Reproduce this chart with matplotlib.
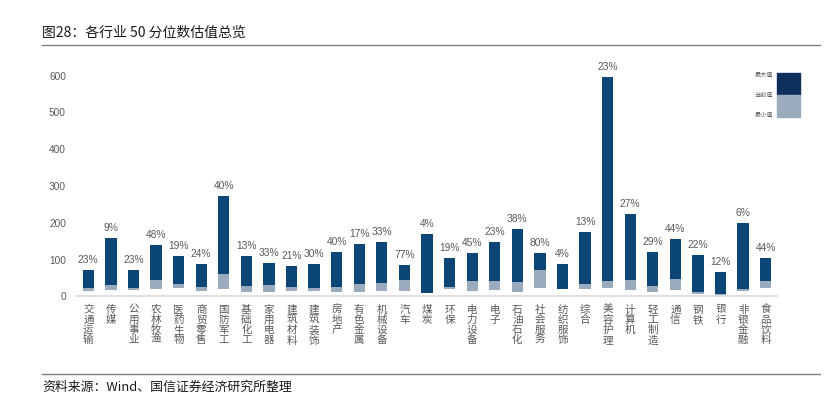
import matplotlib
matplotlib.use("Agg")
import matplotlib.pyplot as plt
from matplotlib.patches import Rectangle
from matplotlib.lines import Line2D

plt.rcParams['font.family'] = ['Noto Sans CJK SC', 'DejaVu Sans']

categories = ["交通运输", "传媒", "公用事业", "农林牧渔", "医药生物", "商贸零售", "国防军工",
              "基础化工", "家用电器", "建筑材料", "建筑装饰", "房地产", "有色金属", "机械设备",
              "汽车", "煤炭", "环保", "电力设备", "电子", "石油石化", "社会服务", "纺织服饰",
              "综合", "美容护理", "计算机", "轻工制造", "通信", "钢铁", "银行", "非银金融", "食品饮料"]
max_vals = [71.6, 157.8, 71.6, 138.7, 108.8, 87.0, 273.8, 109.7, 89.8, 83.4, 88.8, 121.5, 143.2,
            148.7, 85.2, 169.5, 103.4, 117.0, 147.8, 182.2, 117.9, 88.0, 175.0, 597.5, 224.8,
            120.6, 155.9, 112.4, 67.0, 198.5, 105.2]
cur_vals = [21.8, 30.0, 23.6, 44.4, 32.6, 25.4, 59.8, 28.0, 30.0, 25.4, 23.6, 25.4, 32.6,
            37.2, 45.3, 9.0, 26.3, 42.6, 41.7, 38.0, 70.7, 20.0, 34.5, 40.8, 44.4,
            28.0, 48.0, 10.9, 5.0, 20.0, 41.7]
min_vals = [14.5, 18.0, 18.0, 19.0, 22.7, 15.4, 19.0, 11.8, 11.8, 14.5, 14.5, 12.7, 12.7,
            15.4, 14.5, 8.0, 19.0, 15.4, 17.2, 12.7, 21.8, 19.0, 20.9, 21.8, 18.0,
            12.7, 17.2, 5.4, 3.6, 15.4, 23.6]
pct_labels = ["23%", "9%", "23%", "48%", "19%", "24%", "40%", "13%", "33%", "21%", "30%", "40%",
              "17%", "33%", "77%", "4%", "19%", "45%", "23%", "38%", "80%", "4%", "13%", "23%",
              "27%", "29%", "44%", "22%", "12%", "6%", "44%"]
yticks = [0, 100, 200, 300, 400, 500, 600]

dark = "#0b4677"
light = "#9aabbe"
legend_dark = "#0e2f5e"
gray_text = "#595959"
num_font = ["Liberation Sans", "DejaVu Sans"]

fig = plt.figure(figsize=(8.32, 3.95), dpi=100)
ax = fig.add_axes([77/832, 0.2499, 700/832, 0.577])

x = list(range(len(categories)))
ax.bar(x, [c - m for c, m in zip(cur_vals, min_vals)], bottom=min_vals, width=0.5,
       color=light, linewidth=0)
ax.bar(x, [mx - c for mx, c in zip(max_vals, cur_vals)], bottom=cur_vals, width=0.5,
       color=dark, linewidth=0)
for xi, mx, lab in zip(x, max_vals, pct_labels):
    ax.annotate(lab, (xi, mx), xytext=(0, 3.5), textcoords="offset points",
                ha="center", va="bottom", fontsize=7.4, color=gray_text,
                family=num_font, annotation_clip=False)

ax.set_xlim(-0.5, len(categories) - 0.5)
ax.set_ylim(0, 620)
ax.set_yticks(yticks)
ax.set_yticklabels([str(v) for v in yticks], fontsize=7.3, color=gray_text, family=num_font)
ax.set_xticks(x)
ax.set_xticklabels(["\n".join(c) for c in categories], fontsize=7.6, color=gray_text,
                   linespacing=1.02, va="top")
ax.tick_params(axis="both", length=0)
ax.tick_params(axis="x", pad=6)
ax.tick_params(axis="y", pad=8)
for s in ["top", "right", "left"]:
    ax.spines[s].set_visible(False)
ax.spines["bottom"].set_color("#d9d9d9")
ax.spines["bottom"].set_linewidth(1.2)

# legend (stacked swatch)
W, H = 832, 395
fig.patches.append(Rectangle((777/W, (H-95)/H), 23/W, 22.3/H, transform=fig.transFigure,
                             color=legend_dark, figure=fig))
fig.patches.append(Rectangle((777/W, (H-116.7)/H), 23/W, 21.7/H, transform=fig.transFigure,
                             color=light, figure=fig))
for lab, yy in [("最大值", 75), ("当前值", 95), ("最小值", 115)]:
    fig.text(773/W, (H-yy)/H, lab, fontsize=4.4, color=gray_text, ha="right", va="center")

# title and source
fig.text(42/W, (H-33)/H, "图28：各行业 50 分位数估值总览", fontsize=10, color="#1a1a1a",
         ha="left", va="center")
fig.lines.append(Line2D([42/W, 820/W], [(H-44.5)/H]*2, transform=fig.transFigure,
                        color="#7f7f7f", linewidth=1.0))
fig.lines.append(Line2D([42/W, 820/W], [(H-373.5)/H]*2, transform=fig.transFigure,
                        color="#7f7f7f", linewidth=1.0))
fig.text(42/W, (H-387)/H, "资料来源：Wind、国信证券经济研究所整理", fontsize=9.3,
         color="#1a1a1a", ha="left", va="center")

fig.savefig("out.png", dpi=100)
